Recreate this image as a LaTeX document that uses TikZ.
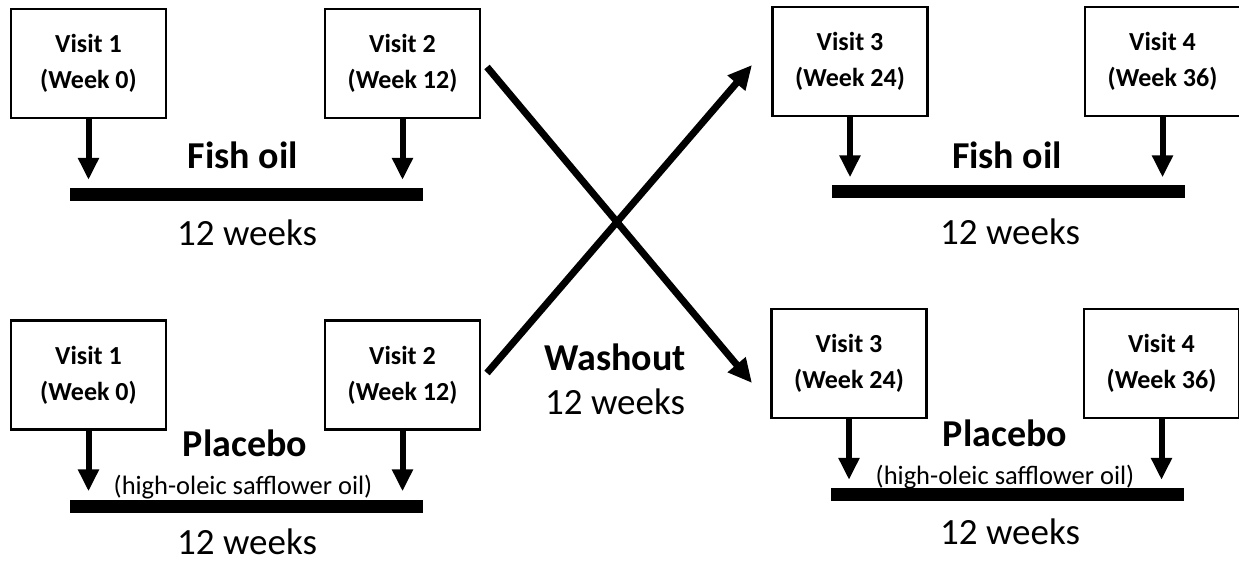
\documentclass[tikz,border=0pt]{standalone}
\usepackage{fontspec}
\setmainfont{Carlito}
\usetikzlibrary{positioning,arrows.meta}

\begin{document}
\begin{tikzpicture}[
  x=1pt, y=-1pt,
  visit/.style={draw,line width=2.5pt,minimum width=155pt,minimum height=109pt,
    align=center,inner sep=2pt,font=\fontsize{26}{36}\selectfont\bfseries},
  bar/.style={fill=black,minimum width=353pt,minimum height=13pt,inner sep=0pt},
  drug/.style={font=\fontsize{38}{40}\selectfont\bfseries},
  sub/.style={font=\fontsize{26.5}{28}\selectfont},
  dur/.style={font=\fontsize{37}{40}\selectfont},
  down/.style={-{Triangle[length=22pt,width=20pt]},line width=6pt,shorten >=8pt},
  cross/.style={-{Triangle[length=24pt,width=22pt]},line width=7pt}
]
  \useasboundingbox (0,0) rectangle (1239,564);

  % fish oil first
  \node[visit] (v1a) at (88.5,63.5) {Visit 1\\(Week 0)};
  \node[visit] (v2a) at (402.5,63.5) {Visit 2\\(Week 12)};
  \node[bar] (bara) at (246.5,194.5) {};
  \node[drug] (fisha) at (243,155) {Fish oil};
  \node[dur] (dura) at (247,233) {12 weeks};
  \draw[down] (v1a.south) -- (v1a.south |- bara.north);
  \draw[down] (v2a.south) -- (v2a.south |- bara.north);

  % placebo first
  \node[visit] (v1b) at (88.5,375) {Visit 1\\(Week 0)};
  \node[visit] (v2b) at (402.5,375) {Visit 2\\(Week 12)};
  \node[bar] (barb) at (246.5,506) {};
  \node[drug] (placb) at (245,443) {Placebo};
  \node[sub] (oilb) at (243,487) {(high-oleic safflower oil)};
  \node[dur] (durb) at (247,542) {12 weeks};
  \draw[down] (v1b.south) -- (v1b.south |- barb.north);
  \draw[down] (v2b.south) -- (v2b.south |- barb.north);

  % fish oil second
  \node[visit] (v3a) at (850,61.5) {Visit 3\\(Week 24)};
  \node[visit] (v4a) at (1162.5,61.5) {Visit 4\\(Week 36)};
  \node[bar] (barc) at (1008.5,192) {};
  \node[drug] (fishc) at (1007,155) {Fish oil};
  \node[dur] (durc) at (1010,232) {12 weeks};
  \draw[down] (v3a.south) -- (v3a.south |- barc.north);
  \draw[down] (v4a.south) -- (v4a.south |- barc.north);

  % placebo second
  \node[visit] (v3b) at (849,363.5) {Visit 3\\(Week 24)};
  \node[visit] (v4b) at (1161.5,363.5) {Visit 4\\(Week 36)};
  \node[bar] (bard) at (1007.5,494.5) {};
  \node[drug] (placd) at (1005,433) {Placebo};
  \node[sub] (oild) at (1005,477) {(high-oleic safflower oil)};
  \node[dur] (durd) at (1010,532) {12 weeks};
  \draw[down] (v3b.south) -- (v3b.south |- bard.north);
  \draw[down] (v4b.south) -- (v4b.south |- bard.north);

  % washout
  \node[drug] (wash) at (615,357) {Washout};
  \node[dur] (durw) at (615,402) {12 weeks};
  \coordinate (xa) at (487,67);
  \coordinate (xb) at (487,373);
  \coordinate (xc) at (752,65);
  \coordinate (xd) at (752,383);
  \draw[cross] (xa) -- (xd);
  \draw[cross] (xb) -- (xc);
\end{tikzpicture}
\end{document}
